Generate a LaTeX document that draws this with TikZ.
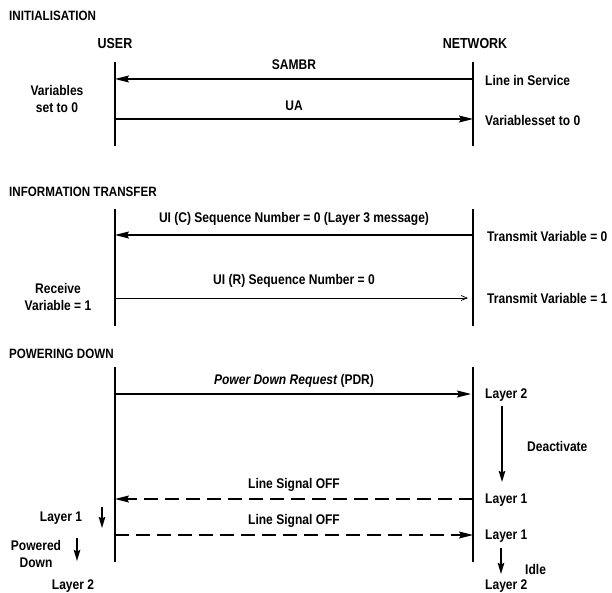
\documentclass[tikz,border=0pt]{standalone}
\usepackage{fontspec}
\setmainfont{Liberation Sans}[FakeStretch=0.86]
\usetikzlibrary{arrows.meta}

\tikzset{
  lifeline/.style={line width=1.7pt},
  msg/.style={line width=1.3pt,-{Stealth[length=14pt,width=7pt,inset=2pt]}},
  thinmsg/.style={line width=0.7pt,-{Straight Barb[length=6pt,width=5pt]}},
  dmsg/.style={msg,dash pattern=on 14pt off 7pt},
  statearrow/.style={line width=1.6pt,-{Stealth[length=11pt,width=6.5pt,inset=1.5pt]}},
  txt/.style={inner sep=0pt,font=\fontsize{14}{17}\selectfont\bfseries},
  lefttxt/.style={txt,anchor=west},
  centretxt/.style={txt,align=center},
  heading/.style={lefttxt,font=\fontsize{13.5}{16}\selectfont\bfseries},
  party/.style={inner sep=0pt,font=\fontsize{14.5}{17}\selectfont\bfseries},
}

\begin{document}
\begin{tikzpicture}[x=1pt,y=-1pt]
\useasboundingbox (0,0) rectangle (612,593);

% ---------------- Initialisation ----------------
\node[heading] (t1) at (9,16) {INITIALISATION};
\node[party] (user) at (115,44) {USER};
\node[party] (net) at (475,44) {NETWORK};

\coordinate (u1top) at (115,62);  \coordinate (u1bot) at (115,146);
\coordinate (n1top) at (473,62);  \coordinate (n1bot) at (473,146);
\draw[lifeline] (u1top) -- (u1bot);
\draw[lifeline] (n1top) -- (n1bot);

\coordinate (u1a) at (115,79);  \coordinate (n1a) at (473,79);
\coordinate (u1b) at (115,119); \coordinate (n1b) at (473,119);
\draw[msg] (n1a) -- (u1a);
\draw[msg] (u1b) -- (n1b);
\node[txt] (sambr) at (294,65) {SAMBR};
\node[txt] (ua) at (294,106) {UA};

\node[centretxt] (uvar) at (57,99) {Variables\\set to 0};
\node[lefttxt] (lis) at (485,80) {Line in Service};
\node[lefttxt] (nvar) at (485,120) {Variablesset to 0};

% ---------------- Information transfer ----------------
\node[heading] (t2) at (9,192) {INFORMATION TRANSFER};

\coordinate (u2top) at (115,209); \coordinate (u2bot) at (115,326);
\coordinate (n2top) at (473,209); \coordinate (n2bot) at (473,326);
\draw[lifeline] (u2top) -- (u2bot);
\draw[lifeline] (n2top) -- (n2bot);

\coordinate (u2a) at (115,235); \coordinate (n2a) at (473,235);
\coordinate (u2b) at (115,298); \coordinate (n2b) at (468,298);
\draw[msg] (n2a) -- (u2a);
\draw[thinmsg] (u2b) -- (n2b);
\node[txt] (uic) at (294,219) {UI (C) Sequence Number = 0 (Layer 3 message)};
\node[txt] (uir) at (294,281) {UI (R) Sequence Number = 0};

\node[lefttxt] (tv0) at (487,236) {Transmit Variable = 0};
\node[lefttxt] (tv1) at (487,298) {Transmit Variable = 1};
\node[centretxt] (rv1) at (58,297) {Receive\\Variable = 1};

% ---------------- Powering down ----------------
\node[heading] (t3) at (9,354) {POWERING DOWN};

\coordinate (u3top) at (115,367); \coordinate (u3bot) at (115,562);
\coordinate (n3top) at (473,367); \coordinate (n3bot) at (473,562);
\draw[lifeline] (u3top) -- (u3bot);
\draw[lifeline] (n3top) -- (n3bot);

\coordinate (u3a) at (115,394); \coordinate (n3a) at (471,394);
\draw[msg] (u3a) -- (n3a);
\node[txt] (pdr) at (294,381) {\itshape Power Down Request \upshape(PDR)};
\node[lefttxt] (nl2a) at (485,395) {Layer 2};

% network deactivation
\coordinate (deacttop) at (502,406); \coordinate (deactbot) at (502,482);
\draw[statearrow] (deacttop) -- (deactbot);
\node[lefttxt] (deact) at (527,446) {Deactivate};

\coordinate (u3b) at (115,499); \coordinate (n3b) at (473,499);
\draw[dmsg] (n3b) -- (u3b);
\node[txt] (lso1) at (294,485) {Line Signal OFF};
\node[lefttxt] (nl1a) at (485,500) {Layer 1};

\coordinate (u3c) at (115,535); \coordinate (n3c) at (473,535);
\draw[dmsg] (u3c) -- (n3c);
\node[txt] (lso2) at (294,521) {Line Signal OFF};
\node[lefttxt] (nl1b) at (485,536) {Layer 1};

\coordinate (idletop) at (501,548); \coordinate (idlebot) at (501,574);
\draw[statearrow] (idletop) -- (idlebot);
\node[lefttxt] (idle) at (525,569) {Idle};
\node[lefttxt] (nl2b) at (485,586) {Layer 2};

% user side power-down states
\node[txt] (ul1) at (61,518) {Layer 1};
\coordinate (ul1top) at (102,507); \coordinate (ul1bot) at (102,528);
\draw[statearrow] (ul1top) -- (ul1bot);
\node[centretxt] (pwd) at (36,554) {Powered\\Down};
\coordinate (pwdtop) at (77,538); \coordinate (pwdbot) at (77,561);
\draw[statearrow] (pwdtop) -- (pwdbot);
\node[txt] (ul2) at (73,586) {Layer 2};
\end{tikzpicture}
\end{document}
